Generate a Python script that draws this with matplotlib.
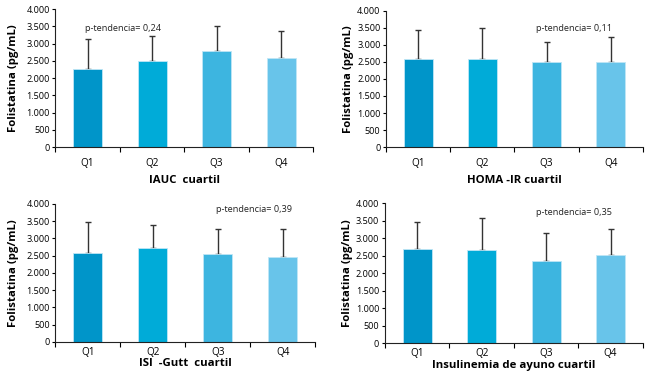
import matplotlib
matplotlib.use("Agg")
import matplotlib.pyplot as plt
import numpy as np

plt.rcParams["font.family"] = ["Open Sans", "DejaVu Sans"]

quartiles = ["Q1", "Q2", "Q3", "Q4"]
bar_colors = ["#0095c9", "#00abd8", "#3db5e0", "#68c4ea"]

xlabels = ["IAUC  cuartil", "HOMA -IR cuartil", "ISI  -Gutt  cuartil",
           "Insulinemia de ayuno cuartil"]
means = [
    [2250, 2500, 2790, 2580],
    [2580, 2600, 2500, 2500],
    [2570, 2710, 2540, 2450],
    [2700, 2660, 2350, 2530],
]
upper = [
    [3130, 3230, 3520, 3360],
    [3440, 3510, 3100, 3230],
    [3470, 3390, 3270, 3270],
    [3470, 3570, 3160, 3250],
]
p_labels = ["p-tendencia= 0,24", "p-tendencia= 0,11",
            "p-tendencia= 0,39", "p-tendencia= 0,35"]
p_pos = [(0.55, 3450), (2.42, 3470), (2.55, 3850), (2.43, 3720)]

yticks = [0, 500, 1000, 1500, 2000, 2500, 3000, 3500, 4000]
yticklabels = ["0", "500", "1.000", "1.500", "2.000", "2.500", "3.000",
               "3.500", "4.000"]

fig = plt.figure(figsize=(6.5, 3.77), dpi=100)
boxes = [
    [0.085, 0.610, 0.397, 0.366],
    [0.594, 0.610, 0.395, 0.361],
    [0.085, 0.093, 0.400, 0.366],
    [0.592, 0.090, 0.397, 0.371],
]
ylabel_pads = [5, 2, 5, 2]
q_pads = [8, 8, 3.5, 3.5]
xlabel_pads = [4, 4, 0.5, 0.5]

for i, box in enumerate(boxes):
    ax = fig.add_axes(box)
    x = np.arange(len(quartiles))
    m = np.array(means[i])
    err = np.array(upper[i]) - m
    ax.bar(x, m, width=0.45, color=bar_colors, edgecolor="#bfe6f6",
           linewidth=0.6, zorder=2)
    ax.errorbar(x, m, yerr=[np.zeros_like(err), err], fmt="none",
                ecolor="#333333", elinewidth=1.0, capsize=2.5, capthick=1.0,
                zorder=1)
    ax.set_xlim(-0.5, 3.5)
    ax.set_ylim(0, 4000)
    ax.set_yticks(yticks)
    ax.set_yticklabels(yticklabels, fontsize=6.6)
    ax.set_xticks(np.arange(-0.5, 4, 1.0))
    ax.set_xticklabels([])
    ax.set_xticks(x, minor=True)
    ax.set_xticklabels(quartiles, minor=True, fontsize=7.2)
    ax.tick_params(axis="x", which="major", length=3.5, width=0.8)
    ax.tick_params(axis="x", which="minor", length=0, pad=q_pads[i])
    ax.tick_params(axis="y", length=2.5, width=0.8, pad=1.5)
    for s in ["top", "right"]:
        ax.spines[s].set_visible(False)
    for s in ["left", "bottom"]:
        ax.spines[s].set_linewidth(0.8)
        ax.spines[s].set_color("#222222")
    ax.set_ylabel("Folistatina (pg/mL)", fontsize=8.2, fontweight="bold",
                  labelpad=ylabel_pads[i])
    ax.set_xlabel(xlabels[i], fontsize=8.2, fontweight="bold",
                  labelpad=xlabel_pads[i])
    ax.text(p_pos[i][0], p_pos[i][1], p_labels[i], fontsize=6.6,
            ha="center", va="center", color="#222222")

fig.savefig("out.png", dpi=100)
